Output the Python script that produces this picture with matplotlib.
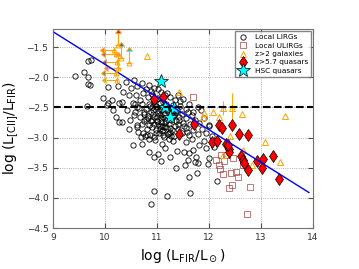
import matplotlib
matplotlib.use('Agg')
import matplotlib.pyplot as plt
import numpy as np

# Local LIRGs (log LFIR, log LCII/LFIR)
lirg_x = [9.68, 9.73, 9.43, 9.60, 9.68,
          9.68, 9.70, 10.06, 10.40, 10.55, 10.70, 10.62, 10.85, 10.95, 11.02, 10.78, 10.50, 10.25,
          9.95, 10.35, 10.45, 10.14, 10.60, 10.72, 10.82, 10.90, 11.00, 11.08, 11.15, 11.25, 11.35,
          11.40, 10.95, 10.68, 10.88, 11.20, 11.50, 11.45,
          9.66, 10.04, 10.06, 10.16, 10.26, 10.33, 10.43, 10.53, 10.62, 10.70, 10.78, 10.85, 10.92,
          10.98, 11.05, 11.10, 11.18, 11.22, 11.30, 11.38, 11.45, 11.55, 11.62, 11.70, 11.78, 11.85,
          10.88, 11.02, 11.12, 10.75, 11.60, 11.28,
          10.20, 10.26, 10.33, 10.55, 10.62, 10.48, 10.68, 10.75, 10.82, 10.90, 10.95, 11.00, 11.08,
          11.15, 11.22, 11.30, 11.36, 11.42, 11.50, 11.56, 11.64, 11.72, 11.80, 11.90, 12.00, 10.85,
          11.05, 11.26, 11.47, 11.68,
          10.45, 10.62, 10.72, 10.80, 10.90, 10.98, 11.05, 11.12, 11.18, 11.25, 11.32, 11.40, 11.48,
          11.55, 11.62, 11.70, 11.78, 11.86, 11.95, 12.00, 12.05, 11.10, 10.95,
          10.53, 10.70, 10.84, 11.01, 11.10, 11.16, 11.39, 11.51, 11.61, 11.69, 11.90, 12.00, 11.80,
          11.30, 11.55, 11.95, 12.10, 11.22, 11.68,
          11.07, 10.95, 11.24, 11.36, 11.59, 11.53, 11.78, 11.74, 11.72, 11.76, 11.98, 11.61, 12.15,
          11.63, 10.95, 10.89, 11.20,
          10.98, 11.03, 11.13, 11.18, 11.27, 11.08, 10.93, 11.33, 11.43, 11.00, 11.15, 11.24, 10.87,
          11.06, 11.34, 11.52, 10.97, 11.11, 11.21, 11.41, 10.80, 11.58, 11.01, 11.31,
          10.58, 10.66, 10.74, 10.83, 10.91, 10.99, 11.07, 11.14, 11.19, 11.29, 10.64, 10.71, 10.79,
          10.86, 10.94, 11.02, 11.09, 11.17, 11.23, 11.36, 10.57, 10.77, 10.89, 11.04, 11.12, 11.27,
          10.69, 10.84, 10.96, 11.13]
lirg_y = [-1.73, -1.71, -1.98, -1.91, -1.99,
          -2.11, -2.12, -2.16, -2.08, -2.05, -2.10, -2.15, -2.12, -2.18, -2.20, -2.19, -2.18, -2.14,
          -2.34, -2.25, -2.29, -2.38, -2.30, -2.26, -2.32, -2.28, -2.36, -2.24, -2.30, -2.33, -2.38,
          -2.30, -2.40, -2.38, -2.22, -2.26, -2.36, -2.40,
          -2.48, -2.46, -2.43, -2.54, -2.43, -2.41, -2.54, -2.43, -2.50, -2.45, -2.52, -2.44, -2.55,
          -2.48, -2.42, -2.53, -2.45, -2.58, -2.46, -2.55, -2.48, -2.52, -2.45, -2.58, -2.50, -2.55,
          -2.58, -2.59, -2.41, -2.57, -2.58, -2.52,
          -2.66, -2.74, -2.74, -2.63, -2.79, -2.70, -2.66, -2.72, -2.64, -2.70, -2.78, -2.65, -2.74,
          -2.68, -2.77, -2.64, -2.72, -2.66, -2.75, -2.68, -2.78, -2.70, -2.76, -2.68, -2.79, -2.79,
          -2.62, -2.70, -2.61, -2.63,
          -2.85, -2.83, -2.93, -2.86, -2.82, -2.92, -2.85, -2.95, -2.83, -2.90, -2.98, -2.86, -2.93,
          -2.84, -2.96, -2.88, -2.94, -2.85, -2.92, -2.81, -2.98, -2.80, -2.99,
          -3.13, -3.10, -3.23, -3.27, -3.11, -3.17, -3.22, -3.24, -3.25, -3.21, -3.06, -3.33, -3.12,
          -3.05, -3.08, -3.18, -3.15, -3.02, -3.03,
          -3.39, -3.32, -3.32, -3.50, -3.37, -3.45, -3.42, -3.32, -3.41, -3.59, -3.43, -3.65, -3.72,
          -3.92, -3.89, -4.10, -3.97,
          -2.50, -2.56, -2.62, -2.52, -2.60, -2.68, -2.60, -2.62, -2.71, -2.72, -2.76, -2.84, -2.47,
          -2.80, -2.80, -2.80, -2.88, -2.88, -2.94, -2.78, -2.96, -2.90, -2.34, -2.56,
          -2.58, -2.51, -2.61, -2.67, -2.49, -2.73, -2.55, -2.82, -2.54, -2.87, -2.90, -2.77, -2.69,
          -2.95, -2.66, -2.77, -2.89, -2.72, -2.93, -2.58, -2.44, -2.98, -2.73, -2.92, -2.66, -2.97,
          -2.99, -3.02, -3.04, -2.99]

# Local ULIRGs
ulirg_x = [11.69, 12.13, 12.19, 12.21, 12.29, 12.27, 12.46, 12.42, 12.52, 12.56, 12.44, 12.39,
           12.65, 12.79, 12.73, 12.33, 12.22]
ulirg_y = [-2.33, -3.37, -3.45, -3.52, -3.39, -3.60, -3.34, -3.59, -3.57, -3.65, -3.79, -3.84,
           -3.45, -3.82, -4.27, -3.28, -3.29]

# z>2 galaxies (detections)
gal_x = [10.80, 11.43, 11.88, 11.90, 12.07, 12.19, 12.27, 12.44, 12.63, 13.46, 13.08, 13.37,
         12.83, 12.65, 12.27, 12.36, 12.40]
gal_y = [-1.65, -2.24, -2.66, -2.59, -2.58, -2.66, -2.51, -2.51, -2.61, -2.64, -3.08, -3.40,
         -3.45, -3.21, -3.28, -3.12, -2.98]
gal_yerr = [0.0, 0.0, 0.0, 0.0, 0.0, 0.0, 0.12, 0.25, 0.0, 0.0, 0.0, 0.0,
            0.0, 0.0, 0.0, 0.10, 0.0]

# z>2 galaxies (limits)
lim_x = [10.24, 10.20, 10.22, 10.25, 10.20, 10.22, 10.45, 10.30, 10.18]
lim_y = [-1.47, -1.62, -1.75, -1.85, -1.93, -2.05, -1.76, -1.68, -1.55]
lim_up = [True, False, False, True, False, False, True, True, False]
lim_left = [False, True, True, True, True, True, False, False, True]

# z>5.7 quasars
qso_x = [10.95, 11.11, 11.71, 11.43, 12.19, 12.25, 12.44, 12.57, 12.75, 12.05, 12.15, 12.32,
         12.38, 12.38, 12.61, 12.65, 12.67, 12.75, 12.92, 13.04, 13.02, 13.23, 13.35, 12.36]
qso_y = [-2.36, -2.33, -2.78, -2.94, -2.79, -2.84, -2.79, -2.94, -2.96, -3.07, -3.06, -3.11,
         -3.19, -3.24, -3.31, -3.37, -3.42, -3.54, -3.39, -3.36, -3.50, -3.31, -3.69, -3.12]

# HSC quasars
hsc_x = [11.07, 11.16, 11.32, 11.24]
hsc_y = [-2.06, -2.49, -2.51, -2.66]

fit_x = [9.0, 13.92]
fit_y = [-1.245, -3.91]

fig = plt.figure(figsize=(3.59, 2.69), dpi=100)
ax = fig.add_axes([0.148, 0.152, 0.724, 0.74])

h1, = ax.plot(lirg_x, lirg_y, 'o', mfc='none', mec='k', ms=3.8, mew=0.6, label='Local LIRGs')
h2, = ax.plot(ulirg_x, ulirg_y, 's', mfc='none', mec='#a83c3c', alpha=0.7, ms=3.8, mew=0.7,
              label='Local ULIRGs')
ax.errorbar(gal_x, gal_y, yerr=gal_yerr, fmt='none', ecolor='orange', elinewidth=0.7)
h3, = ax.plot(gal_x, gal_y, '^', mfc='none', mec='orange', ms=4, mew=0.7, label='z>2 galaxies')
for x, y, up, left in zip(lim_x, lim_y, lim_up, lim_left):
    ax.errorbar(x, y, yerr=0.2 if up else None, xerr=0.2 if left else None,
                lolims=up, xuplims=left, fmt='^', mfc='none', mec='orange', ecolor='orange',
                ms=3.5, mew=0.7, elinewidth=0.8, capsize=2)
h4, = ax.plot(qso_x, qso_y, 'd', mfc='red', mec='k', ms=6, mew=0.5, label='z>5.7 quasars')
h5, = ax.plot(hsc_x, hsc_y, '*', mfc='cyan', mec='k', ms=10, mew=0.5, label='HSC quasars')

ax.plot(fit_x, fit_y, 'b-', lw=1)
ax.axhline(-2.5, color='k', ls='--', lw=1.5)

ax.set_xlim(9, 14)
ax.set_ylim(-4.5, -1.2)
ax.set_xticks([9, 10, 11, 12, 13, 14])
ax.set_yticks([-4.5, -4.0, -3.5, -3.0, -2.5, -2.0, -1.5])
ax.grid(True, ls=':', color='0.6', lw=0.6)
ax.tick_params(direction='in', labelsize=6.5, top=True, right=True, colors='0.3',
               labelcolor='0.2')
for sp in ax.spines.values():
    sp.set_color('0.45')

ax.set_xlabel(r'log (L$_{\rm FIR}$/L$_\odot$)', fontsize=10)
ax.set_ylabel(r'log (L$_{\rm [CII]}$/L$_{\rm FIR}$)', fontsize=10)

leg = ax.legend(handles=[h1, h2, h3, h4, h5], loc='upper right', fontsize=5.3, numpoints=1,
                borderaxespad=0.3, handletextpad=0.8, labelspacing=0.3, fancybox=False,
                handlelength=1.5)
leg.get_frame().set_edgecolor('0.4')

fig.savefig('out.png', dpi=100)
